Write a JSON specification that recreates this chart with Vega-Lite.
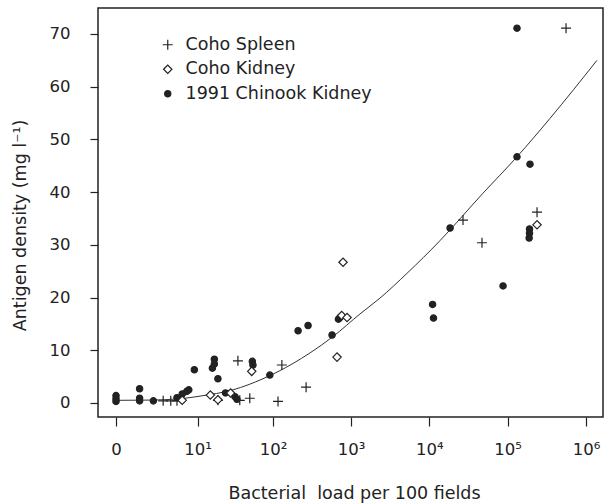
{
  "$schema": "https://vega.github.io/schema/vega-lite/v6.json",
  "width": 505,
  "height": 409,
  "autosize": "none",
  "padding": {"left": 98, "top": 8, "right": 4, "bottom": 87},
  "background": "white",
  "config": {
    "view": {"stroke": "#222", "strokeWidth": 1.5},
    "axis": {
      "domain": false,
      "grid": false,
      "tickColor": "#222",
      "tickWidth": 1.2,
      "labelFont": "DejaVu Sans",
      "labelFontSize": 16.5,
      "labelColor": "#222",
      "titleFont": "DejaVu Sans",
      "titleFontSize": 17.5,
      "titleFontWeight": "normal",
      "titleColor": "#222"
    },
    "legend": {
      "orient": "none",
      "legendX": 61,
      "legendY": 28,
      "padding": 0,
      "rowPadding": 5.5,
      "labelOffset": 9,
      "labelLimit": 0,
      "labelFont": "DejaVu Sans",
      "labelFontSize": 17.5,
      "labelColor": "#222",
      "symbolStrokeWidth": 1.2
    }
  },
  "datasets": {
    "points": [
      {"load": 0, "antigen": 0.3, "series": "1991 Chinook Kidney"},
      {"load": 0, "antigen": 0.8, "series": "1991 Chinook Kidney"},
      {"load": 0, "antigen": 1.4, "series": "1991 Chinook Kidney"},
      {"load": 1, "antigen": 2.7, "series": "1991 Chinook Kidney"},
      {"load": 1, "antigen": 0.9, "series": "1991 Chinook Kidney"},
      {"load": 1, "antigen": 0.4, "series": "1991 Chinook Kidney"},
      {"load": 2, "antigen": 0.4, "series": "1991 Chinook Kidney"},
      {"load": 5, "antigen": 1.0, "series": "1991 Chinook Kidney"},
      {"load": 6, "antigen": 1.7, "series": "1991 Chinook Kidney"},
      {"load": 7, "antigen": 2.2, "series": "1991 Chinook Kidney"},
      {"load": 7.5, "antigen": 2.5, "series": "1991 Chinook Kidney"},
      {"load": 9, "antigen": 6.3, "series": "1991 Chinook Kidney"},
      {"load": 17, "antigen": 8.3, "series": "1991 Chinook Kidney"},
      {"load": 17, "antigen": 7.4, "series": "1991 Chinook Kidney"},
      {"load": 16, "antigen": 6.6, "series": "1991 Chinook Kidney"},
      {"load": 19, "antigen": 4.6, "series": "1991 Chinook Kidney"},
      {"load": 24, "antigen": 1.9, "series": "1991 Chinook Kidney"},
      {"load": 32, "antigen": 1.2, "series": "1991 Chinook Kidney"},
      {"load": 34, "antigen": 0.7, "series": "1991 Chinook Kidney"},
      {"load": 54, "antigen": 7.9, "series": "1991 Chinook Kidney"},
      {"load": 55, "antigen": 7.2, "series": "1991 Chinook Kidney"},
      {"load": 91, "antigen": 5.3, "series": "1991 Chinook Kidney"},
      {"load": 210, "antigen": 13.7, "series": "1991 Chinook Kidney"},
      {"load": 282, "antigen": 14.7, "series": "1991 Chinook Kidney"},
      {"load": 572, "antigen": 12.9, "series": "1991 Chinook Kidney"},
      {"load": 690, "antigen": 15.9, "series": "1991 Chinook Kidney"},
      {"load": 720, "antigen": 16.2, "series": "1991 Chinook Kidney"},
      {"load": 11000, "antigen": 18.7, "series": "1991 Chinook Kidney"},
      {"load": 11300, "antigen": 16.1, "series": "1991 Chinook Kidney"},
      {"load": 18400, "antigen": 33.2, "series": "1991 Chinook Kidney"},
      {"load": 87300, "antigen": 22.2, "series": "1991 Chinook Kidney"},
      {"load": 131500, "antigen": 71.1, "series": "1991 Chinook Kidney"},
      {"load": 131500, "antigen": 46.7, "series": "1991 Chinook Kidney"},
      {"load": 192800, "antigen": 45.3, "series": "1991 Chinook Kidney"},
      {"load": 190000, "antigen": 33.0, "series": "1991 Chinook Kidney"},
      {"load": 190000, "antigen": 32.2, "series": "1991 Chinook Kidney"},
      {"load": 188000, "antigen": 31.3, "series": "1991 Chinook Kidney"},
      {"load": 3, "antigen": 0.4, "series": "Coho Spleen"},
      {"load": 4, "antigen": 0.4, "series": "Coho Spleen"},
      {"load": 5, "antigen": 0.4, "series": "Coho Spleen"},
      {"load": 19, "antigen": 0.5, "series": "Coho Spleen"},
      {"load": 35, "antigen": 8.0, "series": "Coho Spleen"},
      {"load": 37, "antigen": 0.5, "series": "Coho Spleen"},
      {"load": 50, "antigen": 0.9, "series": "Coho Spleen"},
      {"load": 116, "antigen": 0.3, "series": "Coho Spleen"},
      {"load": 130, "antigen": 7.2, "series": "Coho Spleen"},
      {"load": 266, "antigen": 3.0, "series": "Coho Spleen"},
      {"load": 26900, "antigen": 34.7, "series": "Coho Spleen"},
      {"load": 47000, "antigen": 30.4, "series": "Coho Spleen"},
      {"load": 237000, "antigen": 36.2, "series": "Coho Spleen"},
      {"load": 556000, "antigen": 71.1, "series": "Coho Spleen"},
      {"load": 6, "antigen": 0.5, "series": "Coho Kidney"},
      {"load": 15, "antigen": 1.5, "series": "Coho Kidney"},
      {"load": 19, "antigen": 0.6, "series": "Coho Kidney"},
      {"load": 28, "antigen": 1.9, "series": "Coho Kidney"},
      {"load": 53, "antigen": 6.0, "series": "Coho Kidney"},
      {"load": 662, "antigen": 8.7, "series": "Coho Kidney"},
      {"load": 790, "antigen": 26.7, "series": "Coho Kidney"},
      {"load": 760, "antigen": 16.6, "series": "Coho Kidney"},
      {"load": 889, "antigen": 16.2, "series": "Coho Kidney"},
      {"load": 237000, "antigen": 33.8, "series": "Coho Kidney"}
    ],
    "fit": [
      {"load": 0, "antigen": 0.5},
      {"load": 1.72, "antigen": 0.55},
      {"load": 5.56, "antigen": 0.8},
      {"load": 10.8, "antigen": 1.3},
      {"load": 30.2, "antigen": 2.5},
      {"load": 74.3, "antigen": 4.6},
      {"load": 181, "antigen": 7.5},
      {"load": 299, "antigen": 9.5},
      {"load": 588, "antigen": 12.6},
      {"load": 1303, "antigen": 16.9},
      {"load": 2344, "antigen": 19.9},
      {"load": 5188, "antigen": 24.6},
      {"load": 13680, "antigen": 30.8},
      {"load": 48450, "antigen": 39.8},
      {"load": 131500, "antigen": 46.7},
      {"load": 347500, "antigen": 54},
      {"load": 1380000, "antigen": 65}
    ]
  },
  "layer": [
    {
      "data": {"name": "fit"},
      "mark": {"type": "line", "color": "#333", "strokeWidth": 1, "interpolate": "monotone"},
      "encoding": {
        "x": {"field": "load", "type": "quantitative"},
        "y": {"field": "antigen", "type": "quantitative"}
      }
    },
    {
      "data": {"name": "points"},
      "mark": {"type": "point", "filled": true, "strokeWidth": 1.2, "opacity": 1},
      "encoding": {
        "x": {
          "field": "load",
          "type": "quantitative",
          "scale": {"type": "symlog", "constant": 1, "domain": [-0.698, 1648000], "nice": false, "zero": false},
          "axis": {
            "values": [0, 10, 100, 1000, 10000, 100000, 1000000],
            "labelExpr": "datum.value == 0 ? '0' : datum.value == 10 ? '10¹' : datum.value == 100 ? '10²' : datum.value == 1000 ? '10³' : datum.value == 10000 ? '10⁴' : datum.value == 100000 ? '10⁵' : '10⁶'",
            "tickSize": 9,
            "labelBaseline": "alphabetic",
            "labelPadding": 28,
            "labelFlush": false,
            "labelOverlap": false,
            "title": "Bacterial\u00a0 load per 100 fields",
            "titleBaseline": "alphabetic",
            "titleAlign": "center",
            "titleX": 256,
            "titleY": 81
          }
        },
        "y": {
          "field": "antigen",
          "type": "quantitative",
          "scale": {"domain": [-2.66, 74.93], "nice": false, "zero": false},
          "axis": {
            "values": [0, 10, 20, 30, 40, 50, 60, 70],
            "tickSize": 8,
            "labelPadding": 20,
            "labelBaseline": "middle",
            "title": "Antigen density (mg l⁻¹)",
            "titleAngle": 270,
            "titleBaseline": "alphabetic",
            "titleAlign": "center",
            "titleX": -73,
            "titleY": 217
          }
        },
        "shape": {
          "field": "series",
          "type": "nominal",
          "scale": {
            "domain": ["Coho Spleen", "Coho Kidney", "1991 Chinook Kidney"],
            "range": ["M-1,0L1,0M0,-1L0,1", "diamond", "circle"]
          },
          "legend": {"title": null}
        },
        "fill": {
          "field": "series",
          "type": "nominal",
          "scale": {
            "domain": ["Coho Spleen", "Coho Kidney", "1991 Chinook Kidney"],
            "range": ["transparent", "white", "#222"]
          },
          "legend": {"title": null}
        },
        "stroke": {
          "field": "series",
          "type": "nominal",
          "scale": {
            "domain": ["Coho Spleen", "Coho Kidney", "1991 Chinook Kidney"],
            "range": ["#222", "#222", "#222"]
          },
          "legend": {"title": null}
        },
        "size": {
          "field": "series",
          "type": "nominal",
          "scale": {
            "domain": ["Coho Spleen", "Coho Kidney", "1991 Chinook Kidney"],
            "range": [100, 40, 88]
          },
          "legend": {"title": null}
        }
      }
    }
  ]
}
